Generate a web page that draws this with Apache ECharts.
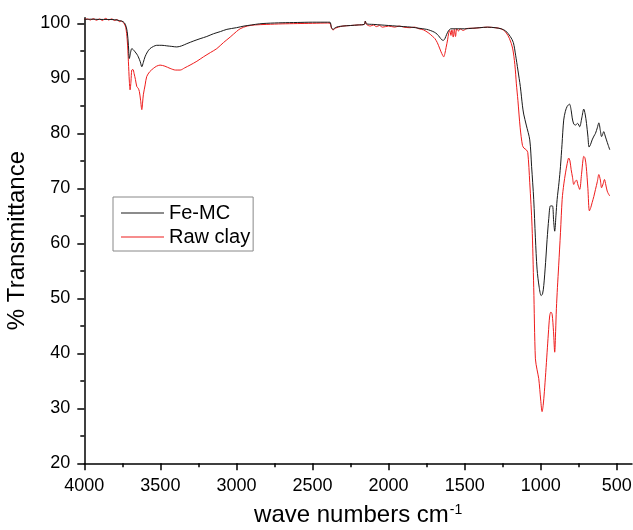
<!DOCTYPE html>
<html><head><meta charset="utf-8">
<script src="https://cdn.jsdelivr.net/npm/echarts@6/dist/echarts.min.js"></script>
<style>html,body{margin:0;padding:0;background:#fff}#c{width:633px;height:530px}</style>
</head><body><div id="c"></div>
<script>
// Fe-MC (black)
const feMcWn = [4000,3950,3900,3850,3800,3770,3745,3730,3718,3710,3704,3695,3688,3678,3666,3655,3645,3632,3622,3612,3601,3585,3568,3545,3524,3490,3458,3425,3392,3360,3326,3280,3239,3195,3151,3105,3063,3000,2950,2900,2850,2800,2700,2600,2500,2400,2385,2375,2365,2350,2330,2300,2250,2200,2160,2153,2145,2100,2050,2000,1950,1900,1850,1800,1750,1726,1700,1680,1665,1650,1640,1630,1618,1605,1590,1550,1500,1450,1400,1350,1300,1260,1230,1200,1180,1165,1150,1134,1120,1112,1095,1072,1060,1046,1035,1024,1010,997,988,980,968,958,947,936,923,915,908,900,892,880,870,860,849,838,826,811,800,793,783,772,757,744,730,717,708,699,690,682,672,662,650,640,628,618,608,600,593,586,576,568,556,546];
const feMcT = [100.7,100.75,100.7,100.7,100.65,100.5,100.3,99.8,98.5,96,93.6,94.8,95.4,95.2,94.8,94.4,93.9,93.0,92.1,92.9,93.9,94.8,95.4,95.8,96.0,96.0,95.9,95.8,95.7,95.9,96.3,96.8,97.2,97.6,98.1,98.5,98.9,99.2,99.5,99.7,99.9,100.0,100.1,100.15,100.2,100.2,100.2,99.2,98.9,99.2,99.4,99.5,99.6,99.7,99.8,100.4,99.9,99.8,99.7,99.6,99.5,99.4,99.3,99.1,98.9,98.7,98.4,98.0,97.5,97.0,96.9,97.2,98.0,98.7,99.0,99.0,99.0,99.1,99.2,99.3,99.2,99.0,98.6,97.6,96.5,94.2,91.5,88.5,85,83.5,81.5,78.8,74,68.0,61,55.3,52,50.5,50.8,52.3,56.5,60.7,64.5,66.8,66.8,64,62.2,65,68.0,71,74.0,78,82.4,84,84.9,85.3,84.2,82.8,81.7,81.5,81.8,81.2,82.8,84.4,83.5,81.8,79.5,77.5,78.0,78.8,79.5,80.0,81.0,81.9,80.5,79.4,79.8,80.3,79.5,78.8,77.8,77.0];

// Raw clay (red)
const rawWn = [4000,3980,3960,3940,3920,3900,3880,3860,3840,3820,3800,3785,3770,3755,3740,3728,3718,3710,3704,3699,3693,3688,3680,3673,3664,3655,3646,3638,3630,3622,3617,3612,3600,3590,3570,3546,3525,3502,3470,3436,3400,3370,3340,3305,3260,3217,3170,3129,3085,3041,3000,2976,2930,2880,2800,2700,2600,2500,2400,2385,2375,2365,2350,2330,2300,2250,2200,2160,2153,2145,2120,2100,2080,2060,2040,2000,1960,1930,1900,1860,1830,1800,1770,1740,1726,1710,1695,1680,1665,1655,1645,1638,1630,1622,1612,1605,1598,1590,1584,1575,1568,1560,1552,1540,1530,1510,1490,1470,1440,1400,1350,1300,1260,1230,1205,1185,1170,1160,1150,1135,1120,1110,1095,1085,1072,1057,1046,1035,1024,1013,1000,991,984,976,967,958,950,941,933,925,916,908,902,897,890,882,870,859,848,837,826,816,808,800,791,783,774,765,755,744,732,722,717,709,701,690,680,671,662,651,640,628,618,608,600,590,581,572,563,555,546];
const rawT = [100.7,100.8,100.6,100.85,100.55,100.8,100.5,100.9,100.6,100.8,100.5,100.7,100.3,100.4,100.0,99.3,97,93,89.5,87.9,89.5,91.5,91.6,90.9,89.8,88.5,88.2,87.6,86,84.3,85.5,87.0,88.8,90.3,91.2,91.8,92.2,92.4,92.2,91.8,91.5,91.5,91.9,92.4,93.1,93.9,94.7,95.4,96.5,97.5,98.5,99.0,99.5,99.7,99.8,99.9,99.95,100.0,100.05,100.0,99.1,98.8,99.1,99.3,99.5,99.6,99.7,99.8,100.4,99.8,99.5,99.7,99.4,99.6,99.3,99.5,99.3,99.5,99.3,99.2,99.3,99.0,98.8,98.3,98.0,97.6,97.2,96.5,95.5,94.8,94.2,93.9,94.5,95.6,97.0,98.2,98.7,97.8,98.8,97.5,98.9,97.6,99.0,98.6,99.0,98.7,99.0,99.1,99.1,99.2,99.3,99.2,99.0,98.4,97.2,95.5,92.5,89,86,81,77.8,77.3,77.0,76.5,71,63.1,52,39.0,37,35.4,31.5,29.4,30.5,33.0,36.5,40.2,43.5,46.8,47.5,47.1,44,40.2,44,48.1,52,55.9,62,68.0,70.8,72.8,74.5,75.5,75,73.4,72,70.7,71.2,71.5,70.6,69.8,72.5,75.2,75.8,75.5,74.0,70,65.9,66.5,67.4,68.5,69.8,71.2,72.5,71.5,70.1,70.8,71.6,70.6,69.5,69,68.6];

const xMajor = [500,1000,1500,2000,2500,3000,3500,4000];
const xMinor = [750,1250,1750,2250,2750,3250,3750];
const yMajor = [20,30,40,50,60,70,80,90,100];
const yMinor = [25,35,45,55,65,75,85,95];
const seriesNames = ['Fe-MC','Raw clay'];

const FONT = 'Liberation Sans, Arial, sans-serif';
const zip = (a,b)=>a.map((v,i)=>[v,b[i]]);
const axisCol = '#000';
const plain = v => String(v);

const chart = echarts.init(document.getElementById('c'), null, {renderer:'canvas'});
chart.setOption({
  animation:false,
  backgroundColor:'#fff',
  textStyle:{fontFamily:FONT},
  grid:{left:84.3, right:1, top:17.8, bottom:66.7, containLabel:false, outerBoundsMode:'none'},
  legend:{
    orient:'vertical', left:113, top:197,
    padding:[6,3,4,8], itemGap:4, itemWidth:43, itemHeight:20,
    icon:'path://M0,9.5 L43,9.5 L43,10.5 L0,10.5 Z',
    borderColor:'#888', borderWidth:1,
    textStyle:{fontSize:20, color:'#000', fontFamily:FONT},
    data:seriesNames
  },
  xAxis:[{
    type:'value', inverse:true, min:400, max:4000, position:'bottom',
    axisLine:{show:true, lineStyle:{color:axisCol, width:1.5}},
    axisTick:{show:true, length:7, customValues:xMajor, lineStyle:{color:axisCol, width:1.5}},
    axisLabel:{customValues:xMajor, formatter:plain, fontSize:18, color:'#000', margin:14, fontFamily:FONT},
    splitLine:{show:false},
    name:'{a|wave numbers cm}{b|-1}', nameLocation:'middle', nameGap:40,
    nameTextStyle:{rich:{a:{fontSize:24, color:'#000', fontFamily:FONT}, b:{fontSize:14, color:'#000', fontFamily:FONT, verticalAlign:'top', padding:[0,0,10,1]}}}
  },{
    type:'value', inverse:true, min:400, max:4000, position:'bottom',
    axisLine:{show:false},
    axisTick:{show:true, length:4, customValues:xMinor, lineStyle:{color:axisCol, width:1.5}},
    axisLabel:{show:false},
    splitLine:{show:false}
  }],
  yAxis:[{
    type:'value', min:20, max:101, position:'left',
    axisLine:{show:true, lineStyle:{color:axisCol, width:1.5}},
    axisTick:{show:true, length:7, customValues:yMajor, lineStyle:{color:axisCol, width:1.5}},
    axisLabel:{customValues:yMajor, formatter:plain, fontSize:18, color:'#000', margin:14, fontFamily:FONT},
    splitLine:{show:false},
    name:'% Transmittance', nameLocation:'middle', nameGap:50,
    nameTextStyle:{fontSize:24, color:'#000', fontFamily:FONT}
  },{
    type:'value', min:20, max:101, position:'left',
    axisLine:{show:false},
    axisTick:{show:true, length:4, customValues:yMinor, lineStyle:{color:axisCol, width:1.5}},
    axisLabel:{show:false},
    splitLine:{show:false}
  }],
  series:[{
    name:'Fe-MC', type:'line', xAxisIndex:0, yAxisIndex:0,
    data:zip(feMcWn, feMcT), symbol:'none', smooth:0.3,
    lineStyle:{color:'#1a1a1a', width:1}, itemStyle:{color:'#1a1a1a'}, z:3
  },{
    name:'Raw clay', type:'line', xAxisIndex:0, yAxisIndex:0,
    data:zip(rawWn, rawT), symbol:'none', smooth:0.3,
    lineStyle:{color:'#ee1c1c', width:1}, itemStyle:{color:'#ee1c1c'}, z:2
  }]
});
</script></body></html>
